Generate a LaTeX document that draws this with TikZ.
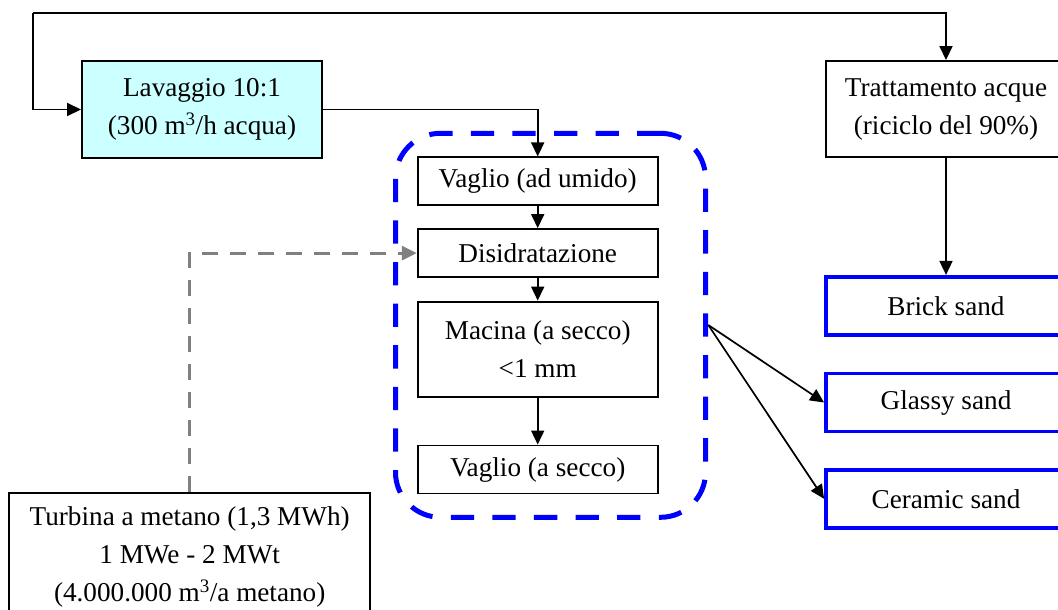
\documentclass[tikz,border=0pt]{standalone}
\usepackage{fontspec}
\setmainfont{Liberation Serif}
\usetikzlibrary{arrows.meta}

\definecolor{washcyan}{RGB}{204,255,255}
\definecolor{feedgray}{RGB}{128,128,128}

\tikzset{
  box/.style={draw=black, line width=1.9pt, inner sep=0pt, align=center,
              font=\fontsize{27.2}{38}\selectfont, minimum width=240pt},
  sandbox/.style={box, draw=blue, line width=3.8pt, minimum height=58pt},
  arr/.style={draw=black, line width=1.7pt, -{Triangle[length=14pt,width=13pt]}},
  feed/.style={draw=feedgray, line width=3.2pt, dash pattern=on 16pt off 12pt,
               -{Triangle[length=15pt,width=14pt]}},
  groupbox/.style={draw=blue, line width=5pt, rounded corners=45pt,
                   dash pattern=on 23.3pt off 18.3pt, inner sep=0pt,
                   minimum width=310pt, minimum height=384pt}
}

\begin{document}
\begin{tikzpicture}[x=1pt,y=-1pt]
  \useasboundingbox (0,0) rectangle (1058,610);
  \clip (0,0) rectangle (1058,610);

  % dashed frame around the dry/wet treatment line
  \node[groupbox] (group) at (550.5,325.3) {};

  % process boxes
  \node[box, fill=washcyan, minimum height=96.5pt] (lav) at (202,109.5)
    {Lavaggio 10:1\\(300 m\textsuperscript{3}/h acqua)};
  \node[box, minimum height=96pt] (trat) at (946,109)
    {Trattamento acque\\(riciclo del 90\%)};
  \node[box, minimum height=48pt] (vag1) at (537.7,181.4) {Vaglio (ad umido)};
  \node[box, minimum height=48pt] (dis) at (537.7,253.1) {Disidratazione};
  \node[box, minimum height=95.5pt] (mac) at (537.7,349.3)
    {Macina (a secco)\\<1 mm};
  \node[box, minimum height=48pt] (vag2) at (537.7,469.5) {Vaglio (a secco)};
  \node[box, minimum width=360.7pt, minimum height=128pt] (turb) at (189.7,557.3)
    {Turbina a metano (1,3 MWh)\\1 MWe - 2 MWt\\(4.000.000 m\textsuperscript{3}/a metano)};

  % products
  \node[sandbox] (brick) at (946,305.8) {Brick sand};
  \node[sandbox] (glassy) at (946,402.5) {Glassy sand};
  \node[sandbox] (ceramic) at (946,498.8) {Ceramic sand};

  % water recycling loop
  \coordinate (loop) at (33,13);
  \draw[arr] (loop) |- (lav.west);
  \draw[arr] (loop) -| (trat.north);

  % main flow
  \draw[arr] (lav.east) -| (vag1.north);
  \draw[arr] (vag1.south) -- (dis.north);
  \draw[arr] (dis.south) -- (mac.north);
  \draw[arr] (mac.south) -- (vag2.north);
  \draw[arr] (trat.south) -- (brick.north);

  % heat from the turbine
  \draw[feed] (turb.north) |- (dis.west);

  % split to products
  \coordinate (fan) at (708.3,325);
  \draw[arr] (fan) -- (glassy.west);
  \draw[arr] (fan) -- (ceramic.west);
\end{tikzpicture}
\end{document}
